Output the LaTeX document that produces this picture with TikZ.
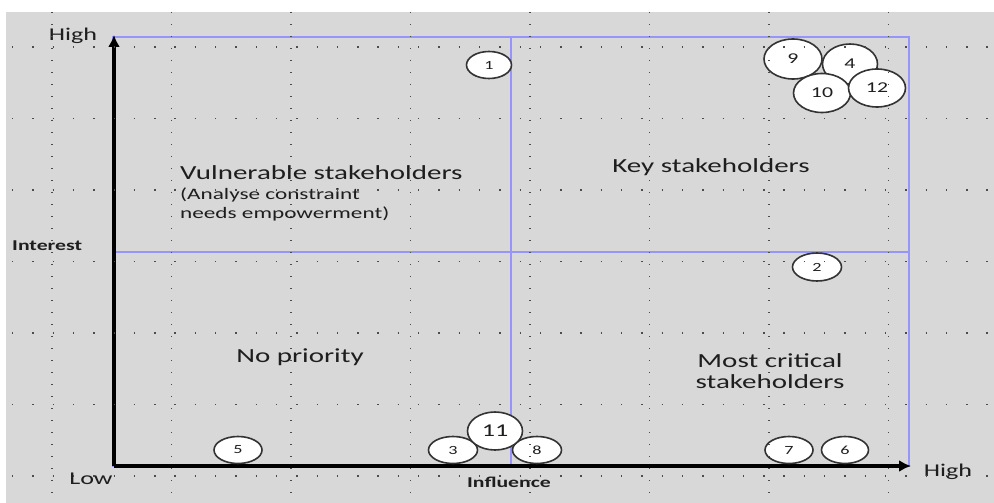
\documentclass[tikz,border=0pt]{standalone}
\usepackage{fontspec}
\setmainfont{Carlito}[FakeStretch=1.45]
\usetikzlibrary{shapes.geometric,arrows.meta}
\definecolor{sheet}{RGB}{216,216,216}
\definecolor{quad}{RGB}{150,150,250}
\definecolor{ink}{RGB}{30,30,30}
\begin{document}
\begin{tikzpicture}[x=1pt,y=-1pt,
  stake/.style={ellipse,draw=black!80,line width=1.6pt,fill=white,inner sep=0pt,
    minimum width=48pt,minimum height=27pt,text=ink,font=\fontsize{12.5}{12}\selectfont},
  bigstake/.style={stake,minimum width=57pt,minimum height=39pt,font=\fontsize{15}{15}\selectfont},
  quadlabel/.style={font=\fontsize{20}{21}\selectfont,text=ink,inner sep=0pt},
  notelabel/.style={font=\fontsize{16}{18}\selectfont,text=ink,inner sep=0pt},
  axislabel/.style={font=\fontsize{18}{18}\selectfont,text=ink,inner sep=0pt},
  axistitle/.style={font=\bfseries\fontsize{15}{15}\selectfont,text=ink,inner sep=0pt},
  vdots/.style={black!70,line width=1.4pt,dash pattern=on 1.4pt off 10.6pt},
  hdots/.style={black!70,line width=1.4pt,dash pattern=on 1.4pt off 18.9pt}]
\useasboundingbox (0,0) rectangle (994,503);
\fill[sheet] (6,12) rectangle (994,503);

% quadrants
\draw[quad,line width=1.3pt] (113,37) rectangle (909,466);
\draw[quad,line width=1.3pt] (511,37) -- (511,466);
\draw[quad,line width=1.3pt] (113,252) -- (909,252);

% axes
\coordinate (O) at (114,466);
\coordinate (ytop) at (114,35);
\coordinate (xend) at (911,466);
\draw[line width=4pt,-{Latex[length=12pt,width=12pt]}] (O) -- (ytop);
\draw[line width=4pt,-{Latex[length=12pt,width=12pt]}] (O) -- (xend);

\node[axislabel,anchor=base] (hiy) at (73,41) {High};
\node[axislabel,anchor=base] (lo) at (91,484) {Low};
\node[axislabel,anchor=base] (hix) at (948,476) {High};
\node[axistitle,anchor=base west] (interest) at (12,250) {Interest};
\node[axistitle,anchor=base] (influence) at (509,487) {Influence};

% quadrant labels
\node[quadlabel,anchor=base west] (vuln) at (180,179) {Vulnerable stakeholders};
\node[notelabel,anchor=base west] (vulnA) at (180,199) {(Analyse constraint};
\node[notelabel,anchor=base west] (vulnB) at (180,218) {needs empowerment)};
\node[quadlabel,anchor=base] (key) at (711,172) {Key stakeholders};
\node[quadlabel,anchor=base] (nopri) at (300,362) {No priority};
\node[quadlabel,anchor=base] (crit) at (770,367) {Most critical};
\node[quadlabel,anchor=base] (critB) at (770,388) {stakeholders};

% stakeholders
\node[stake,minimum width=45pt] (s1) at (489,65) {1};
\node[stake,minimum width=49pt,minimum height=28pt] (s2) at (817,267) {2};
\node[stake,minimum width=49pt] (s3) at (453,450) {3};
\node[stake] (s5) at (238,450) {5};
\node[stake,minimum width=47pt] (s6) at (845,450) {6};
\node[stake] (s7) at (789,450) {7};
\node[stake,minimum width=49pt] (s8) at (537,450) {8};
\node[bigstake,minimum width=58pt,minimum height=40pt] (s9) at (793,59) {9};
\node[bigstake,minimum width=55pt,minimum height=40pt] (s4) at (850,64) {4};
\node[bigstake] (s10) at (822,93) {10};
\node[bigstake,minimum height=38pt] (s12) at (877,88) {12};
\node[bigstake,minimum width=55pt,minimum height=38pt,font=\fontsize{18}{18}\selectfont] (s11) at (495,431) {11};

% sheet grid
\draw[vdots] (52,12) -- (52,503);
\draw[vdots] (171.5,12) -- (171.5,503);
\draw[vdots] (291,12) -- (291,503);
\draw[vdots] (410.5,12) -- (410.5,503);
\draw[vdots] (530,12) -- (530,503);
\draw[vdots] (649.5,12) -- (649.5,503);
\draw[vdots] (769,12) -- (769,503);
\draw[vdots] (888.5,12) -- (888.5,503);
\draw[hdots] (12,47) -- (994,47);
\draw[hdots] (12,118.5) -- (994,118.5);
\draw[hdots] (12,190) -- (994,190);
\draw[hdots] (12,261.5) -- (994,261.5);
\draw[hdots] (12,333) -- (994,333);
\draw[hdots] (12,404.5) -- (994,404.5);
\draw[hdots] (12,476) -- (994,476);
\end{tikzpicture}
\end{document}
